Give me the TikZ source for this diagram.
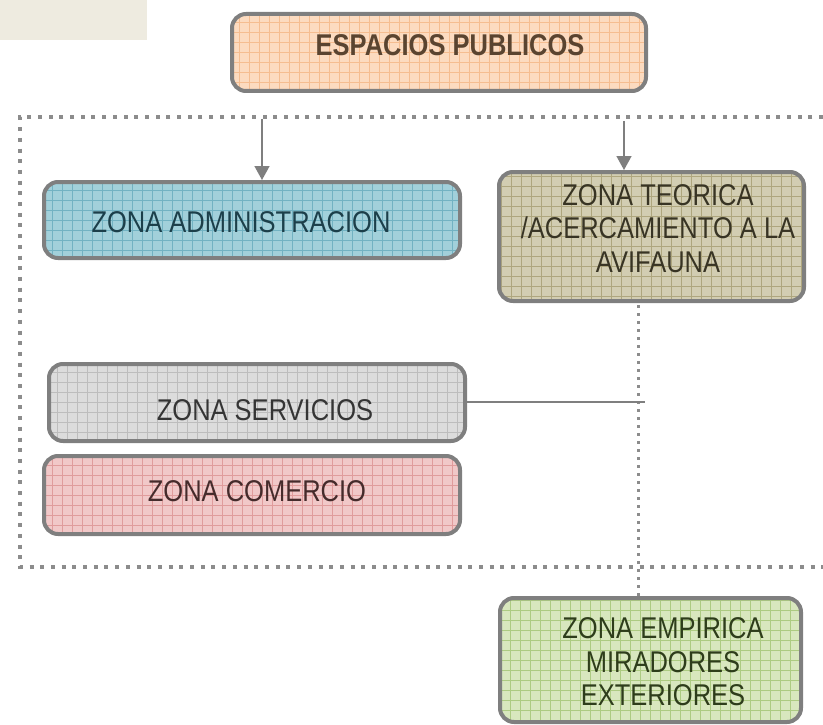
\documentclass[tikz,border=0pt]{standalone}
\usepackage{fontspec}
\usetikzlibrary{arrows.meta}
\newfontfamily\zfont[FakeStretch=0.85]{Liberation Sans}
\definecolor{beige}{HTML}{EEEBE0}
\definecolor{bordergray}{HTML}{7F7F7F}
\definecolor{dotgray}{HTML}{8C8C8C}
\definecolor{orfill}{HTML}{FCDBC0}
\definecolor{orgrid}{HTML}{F5BD90}
\definecolor{blfill}{HTML}{A2D0DA}
\definecolor{blgrid}{HTML}{72B2C2}
\definecolor{olfill}{HTML}{D2CDB2}
\definecolor{olgrid}{HTML}{AEA67E}
\definecolor{grfill}{HTML}{DCDCDC}
\definecolor{grgrid}{HTML}{BDBDBD}
\definecolor{pkfill}{HTML}{F1C8C8}
\definecolor{pkgrid}{HTML}{E09C9C}
\definecolor{gnfill}{HTML}{D8E7BE}
\definecolor{gngrid}{HTML}{ADCB82}
\definecolor{esptext}{HTML}{5A4430}
\definecolor{bltext}{HTML}{1C3F4A}
\definecolor{oltext}{HTML}{383424}
\definecolor{grtext}{HTML}{353535}
\definecolor{pktext}{HTML}{452B2B}
\definecolor{gntext}{HTML}{2E3D1B}
\tikzset{
  zbox/.style 2 args={draw=bordergray, line width=4pt, rounded corners=14pt,
    inner sep=0pt, fill=#1,
    path picture={\draw[#2, line width=0.6pt, step=10pt]
      (path picture bounding box.south west) grid (path picture bounding box.north east);}},
  ztext/.style={inner sep=0pt, align=center, text=#1,
    font=\zfont\fontsize{30pt}{33.5pt}\selectfont},
  arr/.style={draw=bordergray, line width=1.6pt, -{Triangle[width=15pt,length=14pt]}},
  bigdots/.style={draw=dotgray, line width=4pt, dash pattern=on 4pt off 6.7pt},
  smalldots/.style={draw=dotgray, line width=3pt, dash pattern=on 3pt off 5pt},
  hline/.style={draw=bordergray, line width=1.3pt}
}
\begin{document}
\begin{tikzpicture}[x=1pt,y=-1pt]
\useasboundingbox (0,0) rectangle (823,725);
\fill[beige] (0,0) rectangle (147,40);

% boxes
\node[zbox={orfill}{orgrid}, minimum width=414pt, minimum height=77pt] (esp) at (439,52.5) {};
\node[zbox={blfill}{blgrid}, minimum width=416pt, minimum height=76pt] (adm) at (252,220) {};
\node[zbox={olfill}{olgrid}, minimum width=305pt, minimum height=129pt] (teo) at (651.5,236.5) {};
\node[zbox={grfill}{grgrid}, minimum width=416pt, minimum height=77pt] (ser) at (257,402.5) {};
\node[zbox={pkfill}{pkgrid}, minimum width=416pt, minimum height=78pt] (com) at (252,495) {};
\node[zbox={gnfill}{gngrid}, minimum width=301pt, minimum height=124pt] (emp) at (650.5,660) {};

% texts
\node[ztext=esptext, font=\zfont\bfseries\fontsize{30pt}{33.5pt}\selectfont] (espt) at (450,45) {ESPACIOS PUBLICOS};
\node[ztext=bltext] (admt) at (241,222) {ZONA ADMINISTRACION};
\node[ztext=oltext] (teot) at (658,228.5) {ZONA TEORICA\\/ACERCAMIENTO A LA\\AVIFAUNA};
\node[ztext=grtext] (sert) at (265,410) {ZONA SERVICIOS};
\node[ztext=pktext] (comt) at (257,491) {ZONA COMERCIO};
\node[ztext=gntext] (empt) at (663,662) {ZONA EMPIRICA\\MIRADORES\\EXTERIORES};

% dotted frame
\coordinate (ftr) at (823,117);
\coordinate (ftl) at (20,117);
\coordinate (fbl) at (20,567);
\coordinate (fbr) at (823,567);
\draw[bigdots] (ftr) -- (ftl) -- (fbl) -- (fbr);

% arrows
\coordinate (a1) at (262,119);
\coordinate (a2) at (624,121);
\draw[arr] (a1) -- (a1 |- adm.north);
\draw[arr] (a2) -- (a2 |- teo.north);

% vertical dotted link
\coordinate (vx) at (638,0);
\draw[smalldots] (vx |- teo.south) ++(0,2) -- (vx |- emp.north);

% servicios line
\coordinate (hl) at (645,402);
\draw[hline] (ser.east |- hl) -- (hl);
\end{tikzpicture}
\end{document}
